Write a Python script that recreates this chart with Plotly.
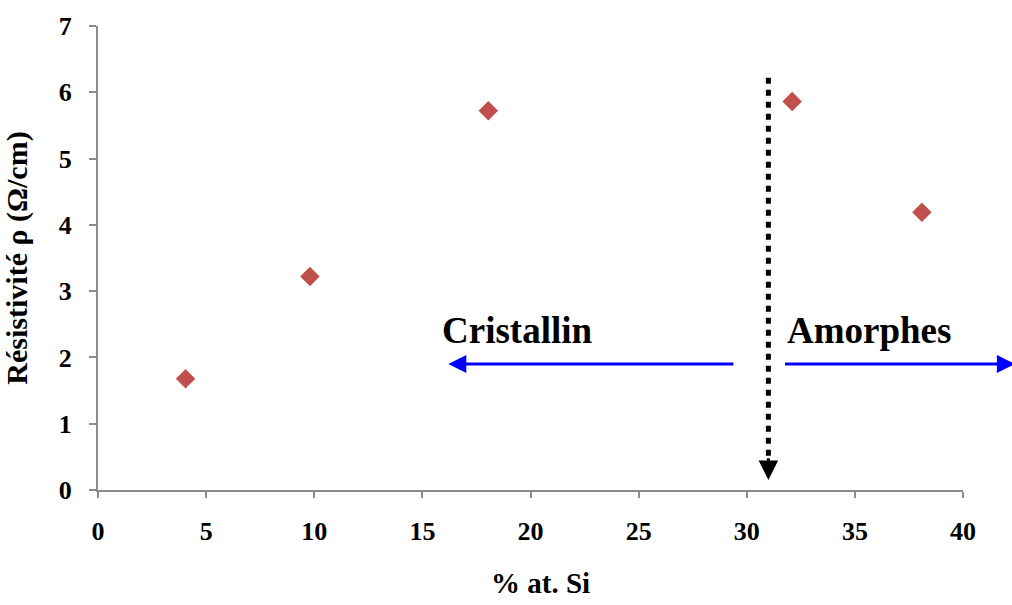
import plotly.graph_objects as go

# Resistivity vs silicon content
si_percent = [4.05, 9.8, 18.05, 32.1, 38.1]
resistivity = [1.68, 3.22, 5.72, 5.86, 4.19]

x_ticks = [0, 5, 10, 15, 20, 25, 30, 35, 40]
y_ticks = [0, 1, 2, 3, 4, 5, 6, 7]

# Crystalline / amorphous boundary
boundary_x = 31.0
boundary_top = 6.22
boundary_bottom = 0.15
arrow_y = 1.9

FONT = "Liberation Serif"
AXIS_GREY = "#8c8c8c"

fig = go.Figure()
fig.add_trace(go.Scatter(
    x=si_percent, y=resistivity, mode="markers",
    marker=dict(symbol="diamond", size=15, color="#c0504d"),
    cliponaxis=False, showlegend=False,
))

# dotted boundary line
fig.add_shape(type="line", xref="x", yref="y",
              x0=boundary_x, x1=boundary_x, y0=boundary_top, y1=0.5,
              line=dict(color="black", width=5, dash="6px,6px"))
# arrow head at the bottom of the boundary
fig.add_annotation(x=boundary_x, y=boundary_bottom, ax=boundary_x, ay=0.5,
                   xref="x", yref="y", axref="x", ayref="y",
                   text="", showarrow=True, arrowhead=2, arrowsize=1.3,
                   arrowwidth=3, arrowcolor="black")

# region arrows
fig.add_annotation(x=16.2, y=arrow_y, ax=29.45, ay=arrow_y,
                   xref="x", yref="y", axref="x", ayref="y",
                   text="", showarrow=True, arrowhead=2, arrowsize=1.2,
                   arrowwidth=3, arrowcolor="#0000ff")
fig.add_annotation(x=42.4, y=arrow_y, ax=31.7, ay=arrow_y,
                   xref="x", yref="y", axref="x", ayref="y",
                   text="", showarrow=True, arrowhead=2, arrowsize=1.2,
                   arrowwidth=3, arrowcolor="#0000ff")

fig.add_annotation(x=15.8, y=2.06, xref="x", yref="y", text="<b>Cristallin</b>",
                   showarrow=False, xanchor="left", yanchor="bottom",
                   font=dict(family=FONT, size=37, color="black"))
fig.add_annotation(x=31.75, y=2.06, xref="x", yref="y", text="<b>Amorphes</b>",
                   showarrow=False, xanchor="left", yanchor="bottom",
                   font=dict(family=FONT, size=37, color="black"))

# axis titles
fig.add_annotation(x=0.512, y=-0.2, xref="paper", yref="paper",
                   text="<b>% at. Si</b>", showarrow=False,
                   xanchor="center", yanchor="middle",
                   font=dict(family=FONT, size=29, color="black"))
fig.add_annotation(x=-0.094, y=0.5, xref="paper", yref="paper",
                   text="<b>Résistivité ρ (Ω/cm)</b>", showarrow=False,
                   textangle=-90, xanchor="center", yanchor="middle",
                   font=dict(family=FONT, size=30, color="black"))

fig.update_xaxes(range=[0, 40], tickvals=x_ticks, ticktext=[f"<b>{v}</b>" for v in x_ticks],
                 showgrid=False, zeroline=False, showline=True, linecolor=AXIS_GREY, linewidth=2,
                 ticks="outside", ticklen=6, tickwidth=2, tickcolor=AXIS_GREY,
                 ticklabelstandoff=11,
                 tickfont=dict(family=FONT, size=26, color="black"))
fig.update_yaxes(range=[0, 7], tickvals=y_ticks, ticktext=[f"<b>{v}</b>" for v in y_ticks],
                 showgrid=False, zeroline=False, showline=True, linecolor=AXIS_GREY, linewidth=2,
                 ticks="outside", ticklen=7, tickwidth=2, tickcolor=AXIS_GREY,
                 ticklabelstandoff=12,
                 tickfont=dict(family=FONT, size=26, color="black"))

fig.update_layout(width=1012, height=605, plot_bgcolor="white", paper_bgcolor="white",
                  margin=dict(l=98, r=49, t=20, b=115), showlegend=False)

fig.write_html("out.html")
